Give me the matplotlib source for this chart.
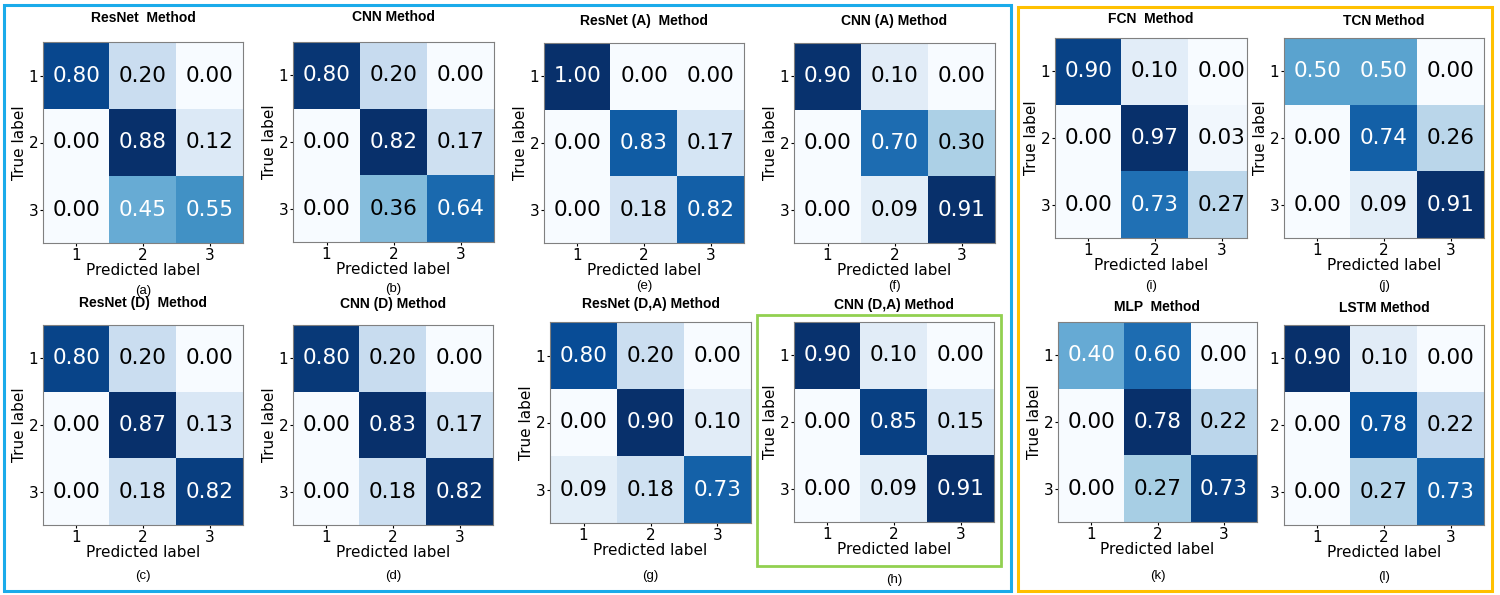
import matplotlib.pyplot as plt
import matplotlib.patches as patches
import numpy as np

# confusion matrices, rows = true label, cols = predicted label
cm_resnet = [[0.80, 0.20, 0.00], [0.00, 0.88, 0.12], [0.00, 0.45, 0.55]]
cm_cnn = [[0.80, 0.20, 0.00], [0.00, 0.82, 0.17], [0.00, 0.36, 0.64]]
cm_resnet_a = [[1.00, 0.00, 0.00], [0.00, 0.83, 0.17], [0.00, 0.18, 0.82]]
cm_cnn_a = [[0.90, 0.10, 0.00], [0.00, 0.70, 0.30], [0.00, 0.09, 0.91]]
cm_fcn = [[0.90, 0.10, 0.00], [0.00, 0.97, 0.03], [0.00, 0.73, 0.27]]
cm_tcn = [[0.50, 0.50, 0.00], [0.00, 0.74, 0.26], [0.00, 0.09, 0.91]]
cm_resnet_d = [[0.80, 0.20, 0.00], [0.00, 0.87, 0.13], [0.00, 0.18, 0.82]]
cm_cnn_d = [[0.80, 0.20, 0.00], [0.00, 0.83, 0.17], [0.00, 0.18, 0.82]]
cm_resnet_da = [[0.80, 0.20, 0.00], [0.00, 0.90, 0.10], [0.09, 0.18, 0.73]]
cm_cnn_da = [[0.90, 0.10, 0.00], [0.00, 0.85, 0.15], [0.00, 0.09, 0.91]]
cm_mlp = [[0.40, 0.60, 0.00], [0.00, 0.78, 0.22], [0.00, 0.27, 0.73]]
cm_lstm = [[0.90, 0.10, 0.00], [0.00, 0.78, 0.22], [0.00, 0.27, 0.73]]

titles = ["ResNet  Method", "CNN Method", "ResNet (A)  Method", "CNN (A) Method",
          "FCN  Method", "TCN Method",
          "ResNet (D)  Method", "CNN (D) Method", "ResNet (D,A) Method", "CNN (D,A) Method",
          "MLP  Method", "LSTM Method"]
panel_labels = ["(a)", "(b)", "(e)", "(f)", "(i)", "(j)",
                "(c)", "(d)", "(g)", "(h)", "(k)", "(l)"]
classes = ["1", "2", "3"]

matrices = [cm_resnet, cm_cnn, cm_resnet_a, cm_cnn_a, cm_fcn, cm_tcn,
            cm_resnet_d, cm_cnn_d, cm_resnet_da, cm_cnn_da, cm_mlp, cm_lstm]

W, H = 1500, 595
# axes boxes in pixels: left, top, right, bottom
boxes = [(43, 42, 243, 243), (293, 42, 494, 242), (544, 43, 744, 243), (794, 43, 995, 243),
         (1055, 38, 1247, 238), (1284, 38, 1484, 238),
         (43, 325, 243, 525), (293, 325, 493, 525), (550, 322, 751, 523), (794, 322, 994, 522),
         (1058, 322, 1257, 522), (1284, 325, 1484, 525)]
title_y = [18, 17, 21, 21, 19, 21, 303, 304, 304, 305, 307, 308]
label_y = [291, 289, 286, 286, 286, 286, 576, 576, 576, 580, 576, 577]

fig = plt.figure(figsize=(15, 5.95), dpi=100)

for i, cm in enumerate(matrices):
    l, t, r, b = boxes[i]
    ax = fig.add_axes([l / W, 1 - b / H, (r - l) / W, (b - t) / H])
    cm = np.array(cm)
    ax.imshow(cm, cmap=plt.cm.Blues, interpolation='nearest', aspect='auto')
    thresh = cm.max() / 2.
    for r_ in range(3):
        for c_ in range(3):
            ax.text(c_, r_, format(cm[r_, c_], '.2f'), ha='center', va='center',
                    fontsize=15.5, color='white' if cm[r_, c_] > thresh else 'black')
    ax.set_xticks(range(3))
    ax.set_yticks(range(3))
    ax.set_xticklabels(classes, fontsize=11)
    ax.set_yticklabels(classes, fontsize=11)
    ax.tick_params(length=2, pad=1.5)
    ax.set_xlabel('Predicted label', fontsize=11, labelpad=0)
    if i != 11:
        # LSTM panel has no room for its y label in the original
        ax.set_ylabel('True label', fontsize=11, labelpad=1)
    if i == 4:
        # FCN panel is clipped on the right in the original figure
        ax.set_xlim(-0.5, 2.38)
    for s in ax.spines.values():
        s.set_edgecolor('#808080')
    fig.text((l + r) / 2 / W, 1 - title_y[i] / H, titles[i], ha='center', va='center',
             fontsize=10, fontweight='bold', family='Liberation Sans')
    fig.text((l + r) / 2 / W, 1 - label_y[i] / H, panel_labels[i], ha='center', va='center',
             fontsize=9.5, family='Liberation Sans')

# frames around the groups
def frame(l, t, r, b, color, lw):
    fig.patches.append(patches.Rectangle((l / W, 1 - b / H), (r - l) / W, (b - t) / H,
                                         transform=fig.transFigure, fill=False,
                                         edgecolor=color, linewidth=lw))

frame(4, 5, 1011, 591, '#1AABEA', 2.2)
frame(1018, 7, 1492, 591, '#FFC000', 2.2)
frame(757, 315, 1001, 566, '#92D050', 2.0)

fig.savefig('out.png', dpi=100)
